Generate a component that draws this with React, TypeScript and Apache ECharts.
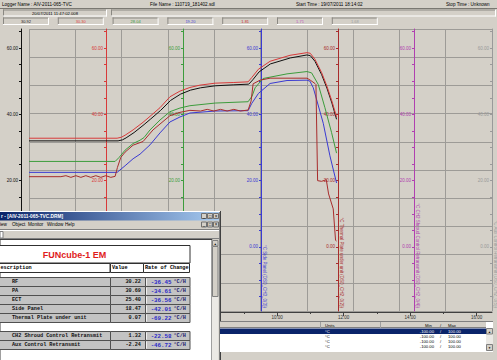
import React, { useEffect, useRef } from 'react';
import * as echarts from 'echarts';

type Pt = [number, number];

// time axis: hours of day (20/07/2011), values in °C
const rfData: Pt[] = [
  [2.54, 32.0], [5.22, 32.0], [5.35, 32.3], [5.46, 32.9], [5.7, 34.5], [6.0, 36.9], [6.2, 38.6], [6.5, 41.2],
  [6.8, 44.2], [7.1, 46.1], [7.4, 47.3], [7.7, 48.0], [8.14, 48.6], [8.7, 48.9], [9.15, 49.1], [9.27, 50.4],
  [9.46, 52.8], [9.8, 55.2], [10.4, 57.0], [10.9, 57.9], [11.0, 57.7], [11.14, 56.0], [11.34, 52.0],
  [11.5, 47.9], [11.65, 43.4], [11.79, 38.5],
];
const paData: Pt[] = [
  [2.54, 32.8], [5.19, 32.8], [5.32, 33.1], [5.43, 33.7], [5.67, 35.3], [5.97, 37.6], [6.18, 39.4], [6.48, 42.0],
  [6.78, 45.3], [7.08, 47.0], [7.38, 48.1], [7.68, 48.8], [8.14, 49.4], [8.7, 49.6], [9.13, 49.8], [9.24, 51.1],
  [9.44, 53.6], [9.79, 56.0], [10.39, 57.8], [10.9, 58.6], [11.0, 58.4], [11.14, 56.6], [11.34, 52.6],
  [11.5, 48.5], [11.65, 44.0], [11.79, 39.2],
];
const ectData: Pt[] = [
  [2.54, 25.8], [5.13, 25.8], [5.25, 27.0], [5.43, 29.2], [5.67, 31.2], [5.88, 32.2], [6.0, 33.0], [6.18, 35.3],
  [6.48, 38.3], [6.78, 40.8], [7.08, 41.9], [7.38, 42.6], [8.14, 43.4], [9.13, 43.8], [9.25, 45.5], [9.34, 48.0],
  [9.58, 50.8], [10.3, 52.2], [10.9, 52.9], [11.04, 52.5], [11.24, 49.0], [11.44, 42.0], [11.64, 34.5], [11.79, 28.3],
];
const sidePanelData: Pt[] = [
  [2.54, 22.5], [5.19, 22.5], [5.43, 24.5], [5.67, 26.6], [5.88, 28.0], [6.18, 30.8], [6.48, 34.4], [6.78, 37.7],
  [7.08, 39.2], [7.38, 40.4], [8.14, 41.0], [9.13, 41.1], [9.24, 43.3], [9.44, 46.3], [9.79, 49.3], [10.3, 50.2],
  [10.9, 50.3], [10.99, 50.0], [11.09, 48.0], [11.39, 37.3], [11.59, 27.5], [11.79, 19.3],
];
const thermalPlateData: Pt[] = [
  [2.54, 21.2], [3.5, 21.2], [3.65, 21.5], [3.8, 21.0], [3.95, 21.5], [4.1, 21.0], [4.25, 21.5], [4.4, 21.0],
  [4.55, 21.5], [4.7, 21.0], [4.85, 21.5], [5.0, 21.0], [5.13, 21.3], [5.2, 24.0], [5.3, 27.0], [5.43, 28.6],
  [5.67, 30.7], [5.97, 31.8], [6.27, 35.3], [6.78, 39.6], [7.08, 40.6], [7.38, 41.2], [7.7, 41.0], [7.9, 41.5],
  [8.1, 41.0], [8.3, 41.5], [8.5, 41.0], [8.7, 41.5], [8.9, 41.0], [9.13, 41.3], [9.22, 44.0], [9.28, 49.2],
  [9.49, 50.3], [9.79, 50.9], [10.9, 50.9], [11.0, 50.3], [11.14, 49.3], [11.17, 49.0], [11.22, 20.0],
  [11.34, 19.8], [11.48, 20.3], [11.55, 16.0], [11.69, 11.5], [11.76, 2.0], [11.79, 1.8],
];

const timeMinorTicks = [3, 5, 7, 9, 11, 13, 15];
const timeMajorTicks = [4, 6, 8, 10, 12, 14, 16];
const timeLabelHours = [10, 12, 14, 16];
const tempLabelValues = [0, 20, 40, 60];
const tempTickValues = [-15, -10, -5, 0, 5, 10, 15, 20, 25, 30, 35, 40, 45, 50, 55, 60, 65];

const channelNames = ['RF', 'PA', 'ECT', 'Side Panel', 'Thermal Plate under unit', 'CH2 Shroud Control Retransmit', 'Aux Control Retransmit'];
const channelColors = ['#101010', '#d83a3a', '#3c9c3c', '#3a3ad2', '#a82c2c', '#b040b0', '#9a9a9a'];
const headerValues = ['30.92', '30.30', '28.04', '19.20', '1.81', '1.71', '1.68'];
const headerValueColors = ['#202020', '#e04040', '#3a9a3a', '#4848d8', '#c83030', '#c050c0', '#a0a0a0'];
const axisTitles = [
  '°C RF (DS0_CH0_0(0))', '°C PA (DS0_CH1_0(1))', '°C ECT (DS0_CH2_0(2))', '°C Side Panel (DS0_CH3_0(3))',
  '°C Thermal Plate under unit (DS0_CH2_0(2))', '°C CH2 Shroud Control Retransmit (DS0_CH2_0(4))',
  '°C Aux Control Retransmit (DS0_CH2_0(5))',
];
const tableValues = ['30.22', '30.69', '25.40', '18.47', '0.07', '1.32', '-2.24'];
const tableRates = ['-36.45', '-34.61', '-36.56', '-42.01', '-69.22', '-22.58', '-46.72'];
const rangeRows = ['°C', '°C', '°C', '°C'];

const Y_MIN = -19.3;
const Y_MAX = 65.73;
const T_MIN = 2.54;
const T_MAX = 16.465;

const BG = '#d4d0c8';
const GRID_C = '#9d9b97';
const FONT = '"Liberation Sans", Arial, sans-serif';
const MONO = '"Liberation Mono", "DejaVu Sans Mono", monospace';

const PLOT_L = 29;
const axisX = [21, 106, 183, 261, 338, 414, 492];

function buildGraphic() {
  const G: any[] = [];
  let zc = 0;
  const R = (x: number, y: number, w: number, h: number, fill: any, stroke?: string) =>
    G.push({ type: 'rect', silent: true, z: 100, z2: zc++, shape: { x, y, width: w, height: h }, style: { fill, stroke: stroke || null, lineWidth: 1 } });
  const L = (x1: number, y1: number, x2: number, y2: number, stroke: string) =>
    G.push({ type: 'line', silent: true, z: 100, z2: zc++, shape: { x1, y1, x2, y2 }, style: { stroke, lineWidth: 1 } });
  const T = (x: number, y: number, s: string, font: string, fill: string, align = 'left', va = 'middle', rot = 0) =>
    G.push({ type: 'text', silent: true, z: 100, z2: zc++, x, y, rotation: rot, style: { text: s, font, fill, align, verticalAlign: va, textAlign: align, textVerticalAlign: va } });
  const sunken = (x: number, y: number, w: number, h: number) => {
    L(x, y + 0.5, x + w, y + 0.5, '#8a8882');
    L(x + 0.5, y, x + 0.5, y + h, '#8a8882');
    L(x, y + h - 0.5, x + w, y + h - 0.5, '#ffffff');
    L(x + w - 0.5, y, x + w - 0.5, y + h, '#ffffff');
  };

  // rotated axis titles
  axisTitles.forEach((t, i) => {
    T(axisX[i] + 1.2, 308, t, `4.5px ${FONT}`, channelColors[i], 'right', 'bottom', -Math.PI / 2);
  });

  // header strip
  const hdrF = `4.6px ${FONT}`;
  T(2, 4.5, 'Logger Name : AIV-2011-065-TVC', hdrF, '#000');
  T(150, 4.5, 'File Name : 110719_181402.sdl', hdrF, '#000');
  T(296, 4.5, 'Start Time : 19/07/2011 18:14:02', hdrF, '#000');
  T(446, 4.5, 'Stop Time : Unknown', hdrF, '#000');
  L(0, 8.5, 497, 8.5, '#7a7872');
  sunken(3, 9.5, 104, 7);
  sunken(111, 9.5, 385, 7);
  T(55, 13, '20/07/2011 11:47:02.008', `4.2px ${FONT}`, '#000', 'center');
  headerValues.forEach((v, i) => {
    const bx = 3 + 54.8 * i;
    sunken(bx, 17.5, 46, 7.5);
    T(bx + 23, 21.3, v, `4px ${FONT}`, headerValueColors[i], 'center');
  });

  // MDI window
  R(0, 211, 221, 149, BG);
  L(220.5, 211, 220.5, 360, '#404040');
  L(219.5, 211, 219.5, 360, '#808080');
  L(0, 211.5, 220, 211.5, '#ffffff');
  R(0, 212, 219, 8.5, new echarts.graphic.LinearGradient(0, 0, 1, 0, [
    { offset: 0, color: '#0a246a' }, { offset: 1, color: '#a6caf0' },
  ]));
  T(1, 216.4, 'r - [AIV-2011-065-TVC.DRM]', `bold 4.8px ${FONT}`, '#ffffff');
  const btns = (y: number) => {
    [['_', 201], ['□', 207], ['×', 213]].forEach(([g, bx]) => {
      R(bx as number + 0.5, y + 0.5, 5, 5, BG, '#707070');
      T((bx as number) + 3, y + 3, g as string, `4.5px ${FONT}`, '#000', 'center');
    });
  };
  btns(213);
  T(0, 224.8, 'iew', hdrF, '#000');
  T(12, 224.8, 'Object', hdrF, '#000');
  T(28, 224.8, 'Monitor', hdrF, '#000');
  T(47, 224.8, 'Window', hdrF, '#000');
  T(65, 224.8, 'Help', hdrF, '#000');
  btns(221.5);
  L(0, 229.5, 219, 229.5, '#808080');
  L(0, 230.5, 219, 230.5, '#ffffff');
  R(0, 231.5, 3, 6.5, '#ffffff', '#808080');
  L(0, 238.5, 219, 238.5, '#808080');
  R(0, 239.5, 212, 121, '#ffffff', '#404040');
  R(212, 240, 6.5, 120, '#ebe9e5');
  R(212.5, 240.5, 5.5, 5.5, BG, '#808080');
  T(215.2, 243.4, '▲', `3px ${FONT}`, '#000', 'center');
  R(212.5, 246.5, 5.5, 50, BG, '#808080');

  // table
  R(-1, 245.5, 191, 17.5, '#ffffff', '#303030');
  T(74.5, 254.6, 'FUNcube-1 EM', `bold 9px ${FONT}`, '#e01c1c', 'center');
  const monoB = `bold 5.2px ${MONO}`;
  R(-1, 263.5, 111, 9, '#ffffff', '#303030');
  R(110.5, 263.5, 33, 9, '#ffffff', '#303030');
  R(143.5, 263.5, 46, 9, '#ffffff', '#303030');
  T(0.5, 268.2, 'escription', monoB, '#000');
  T(112, 268.2, 'Value', monoB, '#000');
  T(145, 268.2, 'Rate of Change', monoB, '#000');
  const rowTops = [277, 286, 295, 304, 313, 331, 340];
  channelNames.forEach((n, i) => {
    const top = rowTops[i] + 0.5;
    R(-1, top, 111.5, 9, '#c3c3c3', '#505050');
    R(110.5, top, 35, 9, '#c3c3c3', '#505050');
    R(145.5, top, 44.5, 9, '#c3c3c3', '#505050');
    L(146.5, top + 1, 146.5, top + 8, '#f0f0f0');
    T(12, top + 4.7, n, monoB, '#111');
    T(141, top + 4.7, tableValues[i], monoB, '#111', 'right');
    T(171.5, top + 4.7, tableRates[i], `bold 5.8px ${MONO}`, '#2a2ac8', 'right');
    T(173.5, top + 4.7, '°C/H', `bold 5.2px ${MONO}`, '#1c1c70');
  });

  // bottom-right range table
  const tf = `4.2px ${FONT}`;
  R(220, 322, 273, 30, '#ffffff');
  R(220, 322, 266, 6, BG);
  L(220, 321.5, 493, 321.5, '#808080');
  L(220, 327.5, 486, 327.5, '#808080');
  L(320.5, 322, 320.5, 328, '#a0a0a0');
  L(380.5, 322, 380.5, 328, '#a0a0a0');
  T(325, 325, 'Units', tf, '#000');
  T(425, 325, 'Min', tf, '#000');
  T(440.5, 325, '/', tf, '#000', 'center');
  T(448, 325, 'Max', tf, '#000');
  rangeRows.forEach((u, i) => {
    const y = 328.5 + 5.2 * i;
    const sel = i === 0;
    if (sel) R(220, y, 266, 5.4, '#0a246a');
    const c = sel ? '#ffffff' : '#000000';
    T(325, y + 2.7, u, tf, c);
    T(434, y + 2.7, '-100.00', tf, c, 'right');
    T(440.5, y + 2.7, '/', tf, c, 'center');
    T(448, y + 2.7, '100.00', tf, c);
  });
  R(486, 328, 7, 23.5, '#ebe9e5');
  R(486.5, 328.5, 6, 5.5, BG, '#808080');
  T(489.5, 331.3, '▲', `3px ${FONT}`, '#000', 'center');
  R(486.5, 344.5, 6, 6, BG, '#808080');
  T(489.5, 347.5, '▼', `3px ${FONT}`, '#000', 'center');
  L(220, 351.5, 493, 351.5, '#ffffff');
  return G;
}

function buildOption(): any {
  const pad = (v: number) => (v < 10 ? '0' : '') + v + ':00';
  const seriesDefs: [string, Pt[], string][] = [
    [channelNames[3], sidePanelData, channelColors[3]],
    [channelNames[2], ectData, channelColors[2]],
    [channelNames[4], thermalPlateData, channelColors[4]],
    [channelNames[0], rfData, channelColors[0]],
    [channelNames[1], paData, channelColors[1]],
  ];
  return {
    animation: false,
    backgroundColor: BG,
    grid: { left: PLOT_L, right: 5, top: 29, bottom: 49, outerBoundsMode: 'none', containLabel: false },
    xAxis: [
      {
        type: 'value', min: T_MIN, max: T_MAX, position: 'bottom', offset: 1,
        axisLine: { show: true, onZero: false, lineStyle: { color: '#404040', width: 1 } },
        axisTick: { show: true, customValues: timeMinorTicks, length: 2, lineStyle: { color: '#404040' } },
        axisLabel: { show: true, customValues: timeLabelHours, formatter: pad, fontSize: 4.5, fontFamily: FONT, color: '#303030', margin: 3 },
        splitLine: { show: false },
      },
      {
        type: 'value', min: T_MIN, max: T_MAX, position: 'bottom', offset: 1,
        axisLine: { show: false, onZero: false },
        axisTick: { show: true, customValues: timeMajorTicks, length: 4, lineStyle: { color: '#404040' } },
        axisLabel: { show: false },
        splitLine: { show: false },
      },
      {
        type: 'value', min: 0, max: 10, interval: 1, position: 'top',
        axisLine: { show: false }, axisTick: { show: false }, axisLabel: { show: false },
        splitLine: { show: true, lineStyle: { color: GRID_C, width: 1 } },
      },
    ],
    yAxis: [
      {
        type: 'value', min: 0, max: 10, interval: 1, position: 'right',
        axisLine: { show: false }, axisTick: { show: false }, axisLabel: { show: false },
        splitLine: { show: true, lineStyle: { color: GRID_C, width: 1 } },
      },
      ...channelColors.map((c, i) => ({
        type: 'value', min: Y_MIN, max: Y_MAX, position: 'left', offset: PLOT_L - axisX[i],
        axisLine: { show: true, onZero: false, lineStyle: { color: c, width: 1 } },
        axisTick: { show: true, customValues: tempTickValues, length: 2, lineStyle: { color: c } },
        axisLabel: {
          show: true, customValues: tempLabelValues, formatter: (v: number) => v.toFixed(2),
          color: c, fontSize: 4.5, fontFamily: FONT, margin: 3,
        },
        splitLine: { show: false },
      })),
    ],
    series: seriesDefs.map(([name, data, color]) => ({
      name, type: 'line', data, xAxisIndex: 0, yAxisIndex: 1,
      showSymbol: false, symbol: 'none', smooth: false,
      lineStyle: { color, width: 1 }, itemStyle: { color }, z: 5,
    })),
    graphic: { elements: buildGraphic() },
  };
}

export default function App() {
  const ref = useRef<HTMLDivElement>(null);
  useEffect(() => {
    document.body.style.margin = '0';
    const chart = echarts.init(ref.current!, null, { renderer: 'svg', width: 497, height: 360 });
    chart.setOption(buildOption());
    return () => chart.dispose();
  }, []);
  return <div ref={ref} style={{ width: 497, height: 360, position: 'absolute', left: 0, top: 0 }} />;
}
